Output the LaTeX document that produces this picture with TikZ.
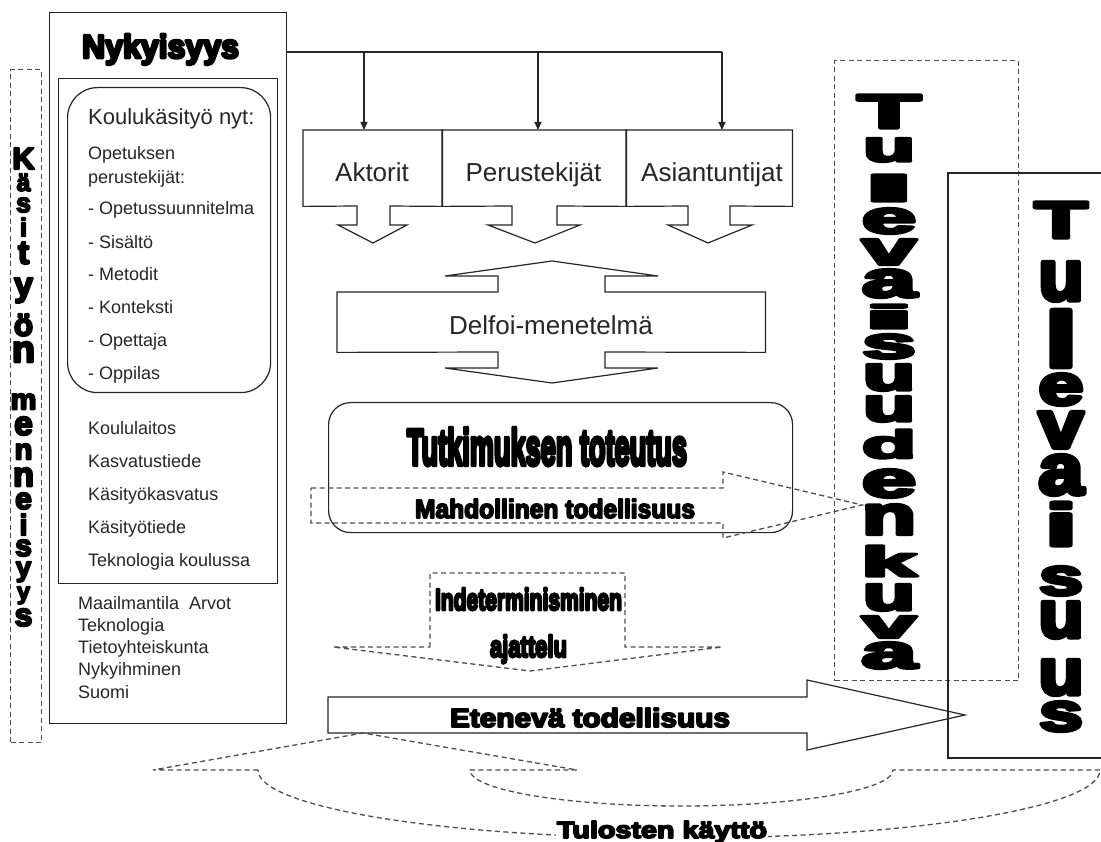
\documentclass[tikz,border=0pt]{standalone}
\usepackage{fontspec}
\setmainfont{Liberation Sans}
\newfontfamily\heavyfont{Liberation Sans}[UprightFont={* Bold}, FakeBold=6.5]
\newfontfamily\narrowfont{Liberation Sans}[UprightFont={* Bold}, FakeBold=8.5]
\usetikzlibrary{arrows.meta}
\definecolor{inkc}{HTML}{262626}
\definecolor{dashc}{HTML}{4D4D4D}

\begin{document}
\begin{tikzpicture}[x=1pt, y=-1pt,
  ink/.style={draw=inkc, line width=1.2pt},
  dashline/.style={draw=dashc, line width=1.3pt, dash pattern=on 5pt off 3.5pt},
  listtext/.style={font=\fontsize{18}{22}\selectfont, text=inkc, inner sep=0pt, anchor=base west},
  boxtext/.style={font=\fontsize{26}{30}\selectfont, text=inkc, inner sep=0pt, anchor=base},
  arttext/.style={inner sep=0pt, anchor=base, text=black, line join=round},
  glyph/.style={inner sep=0pt, anchor=center, text=black, line join=round},
  frame/.style={ink, inner sep=0pt, anchor=north west},
  spot/.style={inner sep=0pt, anchor=north west},
  tip/.style={-{Triangle[width=7pt,length=8pt]}}
]
\useasboundingbox (0,0) rectangle (1101,842);
\fill[white] (0,0) rectangle (1101,842);

% ---------- present: left column ----------
\node[frame, minimum width=237pt, minimum height=711pt] (nyk) at (49,12) {};
\node[frame, minimum width=219pt, minimum height=505pt] (now) at (58,78) {};
\node[frame, rounded corners=30pt, minimum width=203pt, minimum height=305pt] (school) at (67,87) {};
\node[frame, dashline, minimum width=31pt, minimum height=673pt] (pastbox) at (10,69) {};

\node[arttext] (nyk-t) at (160.5,58) {\resizebox{157pt}{24pt}{\narrowfont Nykyisyys}};

\node[listtext, font=\fontsize{22}{26}\selectfont] (school-t) at (88,125) {Koulukäsityö nyt:};
\node[listtext] (l1) at (88,160) {Opetuksen};
\node[listtext] (l2) at (88,184) {perustekijät:};
\node[listtext] (l3) at (88,215) {- Opetussuunnitelma};
\node[listtext] (l4) at (88,249) {- Sisältö};
\node[listtext] (l5) at (88,281) {- Metodit};
\node[listtext] (l6) at (88,314) {- Konteksti};
\node[listtext] (l7) at (88,347) {- Opettaja};
\node[listtext] (l8) at (88,380) {- Oppilas};

\node[listtext] (m1) at (88,435) {Koululaitos};
\node[listtext] (m2) at (88,467) {Kasvatustiede};
\node[listtext] (m3) at (88,500) {Käsityökasvatus};
\node[listtext] (m4) at (88,533) {Käsityötiede};
\node[listtext] (m5) at (88,566) {Teknologia koulussa};

\node[listtext] (w1) at (78,609) {Maailmantila\ \ Arvot};
\node[listtext] (w2) at (78,631) {Teknologia};
\node[listtext] (w3) at (78,653) {Tietoyhteiskunta};
\node[listtext] (w4) at (78,675) {Nykyihminen};
\node[listtext] (w5) at (78,698) {Suomi};

% stacked letters: the past of craft
\foreach \ch/\ya/\yb [count=\i] in {K/147/170, ä/173/192, s/197/213, i/217/237, t/241/265, y/277/304, ö/313/337, n/341/363,
    m/393/410, e/416/436, n/443/460, n/467/487, e/492/510, i/513/536, s/539/557, y/561/583, y/586/605, s/608/627} {
  \pgfmathsetmacro\hh{0.92*(\yb-\ya)}
  \node[glyph] (past-\i) at (23.5,{(\ya+\yb)/2}) {\resizebox*{!}{\hh pt}{\heavyfont \ch}};
}

% ---------- research frame ----------
\node[spot, minimum width=139pt, minimum height=76pt] (akt) at (303,130) {};
\node[spot, minimum width=184pt, minimum height=76pt] (per) at (442,130) {};
\node[spot, minimum width=166pt, minimum height=76pt] (ast) at (626,130) {};

\coordinate (bus) at (722,52);
\coordinate (b1) at (364,52);
\coordinate (b2) at (538,52);
\draw[ink] (nyk.east |- bus) -- (bus);
\draw[ink, tip] (b1) -- (b1 |- akt.north);
\draw[ink, tip] (b2) -- (b2 |- per.north);
\draw[ink, tip] (bus) -- (bus |- ast.north);

\draw[ink] (akt.south west) -- (akt.north west) -- (akt.north east) -- (akt.south east)
  -- (390,206) -- (390,225) -- (407,225) -- (373,243) -- (338,225) -- (357,225) -- (357,206) -- cycle;
\draw[ink] (per.south west) -- (per.north west) -- (per.north east) -- (per.south east)
  -- (557,206) -- (557,225) -- (580,225) -- (535,243) -- (488,225) -- (512,225) -- (512,206) -- cycle;
\draw[ink] (ast.south west) -- (ast.north west) -- (ast.north east) -- (ast.south east)
  -- (730,206) -- (730,225) -- (752,225) -- (708,243) -- (668,225) -- (688,225) -- (688,206) -- cycle;

\node[boxtext] (akt-t) at (372,182) {Aktorit};
\node[boxtext] (per-t) at (533.5,182) {Perustekijät};
\node[boxtext] (ast-t) at (712,182) {Asiantuntijat};

% Delphi method: double callout
\node[spot, minimum width=428pt, minimum height=60pt] (delfoi) at (337,292) {};
\draw[ink] (delfoi.north west) -- (498,292) -- (498,276) -- (445,276) -- (552,261) -- (658,276) -- (605,276) -- (605,292)
  -- (delfoi.north east) -- (delfoi.south east) -- (605,352) -- (605,368) -- (658,368) -- (552,383) -- (445,368)
  -- (498,368) -- (498,352) -- (delfoi.south west) -- cycle;
\node[boxtext] (delfoi-t) at (551,335) {Delfoi-menetelmä};

% carrying out the study
\node[frame, rounded corners=22pt, minimum width=464pt, minimum height=130pt] (study) at (328,402) {};
\node[arttext] (study-t) at (547,465) {\resizebox{280pt}{37pt}{\narrowfont Tutkimuksen toteutus}};

\draw[dashline] (311,488) -- (723,488) -- (723,472) -- (862,505) -- (723,538) -- (723,523) -- (311,523) -- cycle;
\node[arttext] (poss-t) at (555,518) {\resizebox{280pt}{19pt}{\heavyfont Mahdollinen todellisuus}};

% indeterministic thinking
\draw[dashline] (430,647) -- (430,573) -- (625,573) -- (625,647) -- (722,647) -- (530,671) -- (333,647) -- cycle;
\node[arttext] (ind-t1) at (528.5,610) {\resizebox{187pt}{22pt}{\narrowfont Indeterminisminen}};
\node[arttext] (ind-t2) at (528.5,657) {\resizebox{77pt}{22pt}{\narrowfont ajattelu}};

% advancing reality
\draw[ink] (328,697) -- (807,697) -- (807,680) -- (965,715) -- (807,750) -- (807,733) -- (328,733) -- cycle;
\node[arttext] (adv-t) at (590,727) {\resizebox{280pt}{19pt}{\heavyfont Etenevä todellisuus}};

% ---------- future ----------
\node[frame, dashline, minimum width=184pt, minimum height=620pt] (visionbox) at (834,60) {};
\draw[ink] (1101,173) -- (948,173) -- (948,758) -- (1101,758);

\foreach \ch/\ya/\yb/\w [count=\i] in {T/93/130/63, u/137/163/52, l/173/203/50, e/207/235/54, v/238/266/54, a/268/299/54,
    i/303/330/52, s/333/360/54, u/363/392/52, u/395/423/52, d/428/460/54, e/468/499/54, n/503/536/54,
    k/544/578/55, u/583/612/52, v/615/639/54, a/641/670/55} {
  \pgfmathsetmacro\hh{0.9*(\yb-\ya)}
  \node[glyph] (vision-\i) at (889,{(\ya+\yb)/2}) {\resizebox*{\w pt}{\hh pt}{\heavyfont \ch}};
}

\foreach \ch/\ya/\yb/\w [count=\i] in {T/200/240/53, u/260/303/45, l/307/370/32, e/372/407/45, v/410/450/45, a/453/497/45,
    i/500/548/32, s/565/597/44, u/600/640/45, u/658/697/45, s/700/733/44} {
  \pgfmathsetmacro\hh{0.9*(\yb-\ya)}
  \node[glyph] (future-\i) at (1061,{(\ya+\yb)/2}) {\resizebox*{\w pt}{\hh pt}{\heavyfont \ch}};
}

% ---------- use of the results: curved return arrow ----------
\draw[dashline] (258,770) -- (153,770) -- (363,733) -- (577,770) -- (470,770)
  arc[start angle=180, end angle=0, x radius=211.5, y radius=36] -- (1100,770)
  arc[start angle=0, end angle=180, x radius=421, y radius=68] -- cycle;
\node[arttext, fill=white, inner sep=1pt] (use-t) at (662,838) {\resizebox{210pt}{17pt}{\heavyfont Tulosten käyttö}};
\end{tikzpicture}
\end{document}
